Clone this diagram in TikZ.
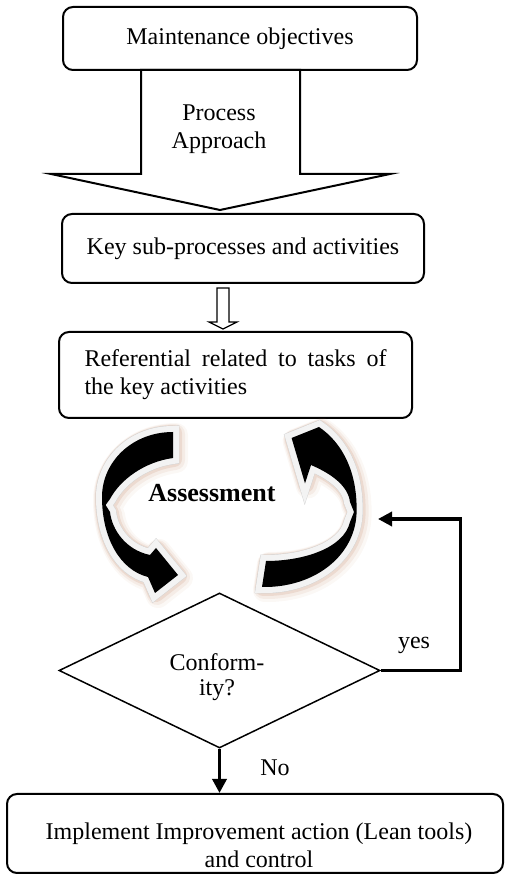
\documentclass[tikz,border=0pt]{standalone}
\usepackage{fontspec}
\setmainfont{Liberation Serif}
\usepackage{tikz}
\usetikzlibrary{arrows.meta,shapes.geometric,calc}
\definecolor{GlowTan}{RGB}{200,150,120}
\definecolor{RimGray}{RGB}{243,243,243}
\tolerance=9999
\tikzset{
  box/.style={rectangle, rounded corners=5pt, draw=black, line width=1pt, fill=white,
    align=center, font=\fontsize{12pt}{14pt}\selectfont},
  decision/.style={diamond, draw=black, line width=0.75pt, fill=white, inner sep=0pt},
  txt/.style={font=\fontsize{12pt}{14pt}\selectfont, align=center, inner sep=0pt},
  blockarrow/.style={draw=black, fill=white, line join=miter},
  flowarrow/.style={-{Triangle[length=7pt,width=7pt]}, line width=1.7pt},
  cycarrow/.style={fill=black, line join=miter,
    preaction={draw=GlowTan, line width=12pt, line join=round, opacity=0.07,
      transform canvas={xshift=1.5pt,yshift=-1.5pt}},
    preaction={draw=GlowTan, line width=10pt, line join=round, opacity=0.12,
      transform canvas={xshift=1pt,yshift=-1pt}},
    preaction={draw=GlowTan, line width=8pt, line join=round, opacity=0.2,
      transform canvas={xshift=0.5pt,yshift=-0.5pt}},
    preaction={draw=gray!35, line width=6.4pt},
    preaction={draw=RimGray, line width=6pt}}
}
\begin{document}
\begin{tikzpicture}[x=1pt,y=1pt]
  \useasboundingbox (0,0) rectangle (252.5,437);
  % steps
  \node[box, minimum width=177pt, minimum height=31.5pt] (obj) at (120,417.75) {Maintenance objectives};
  \node[box, minimum width=181pt, minimum height=34.5pt] (key) at (121.5,312.75) {Key sub-processes and activities};
  \node[box, minimum width=176.5pt, minimum height=43pt, text width=151pt, align=justify] (ref) at (117.75,249.5) {Referential related to tasks of the key activities};
  \node[box, minimum width=248pt, minimum height=39.5pt] (impl) at (127.5,20.25) {};
  \node[txt] (impltext) at (129.5,14.5) {Implement Improvement action (Lean tools)\\and control};
  % process approach
  \draw[blockarrow, line width=1pt] (70.5,402) -- (70.5,350) -- (25.5,350) -- (110,332) -- (195,350) -- (150,350) -- (150,402) -- cycle;
  \node[txt] (pa) at (109.5,372.25) {Process\\Approach};
  \draw[blockarrow, line width=0.6pt] (108.5,293) -- (108.5,276) -- (104.5,276) -- (111.5,272.5) -- (118.5,276) -- (114.5,276) -- (114.5,293) -- cycle;
  % assessment loop
  \path[cycarrow] (86.5,221) .. controls (66,221) and (51,206) .. (51,188.5)
    .. controls (51,168) and (60,152) .. (74,148.5)
    -- (77.5,140.5) -- (89,149.5) -- (78,163) -- (75,159.5)
    .. controls (63,162) and (56,172) .. (55,181)
    -- (52.8,184.5) -- (55,187.5)
    .. controls (60,197) and (72,206) .. (86.5,208) -- cycle;
  \path[cycarrow] (131,143.5) .. controls (158,143) and (178.5,160) .. (178.3,182)
    .. controls (178.5,200) and (172,215) .. (159.5,223.5)
    -- (145.8,218) -- (152.5,195.3) -- (155.5,204.5)
    .. controls (166,200) and (174,194) .. (175,186)
    -- (177,181) -- (175,176)
    .. controls (172,163) and (152,156.5) .. (133,156.5) -- cycle;
  \node[font=\fontsize{13pt}{15pt}\selectfont\bfseries] (assess) at (106,190.5) {Assessment};
  % decision
  \node[decision, minimum width=160.5pt, minimum height=77.5pt] (conf) at (109.75,101.75) {};
  \node[txt, font=\fontsize{12pt}{12.5pt}\selectfont] (conftext) at (108.5,98.25) {Conform-\\ity?};
  \coordinate (back) at (189,177.5);
  \draw[flowarrow] (conf.east) -- ++(40,0) |- (back);
  \draw[flowarrow] (conf.south) -- (conf.south |- impl.north);
  \node[txt] (yes) at (207,114.5) {yes};
  \node[txt] (no) at (137.5,53) {No};
\end{tikzpicture}
\end{document}
